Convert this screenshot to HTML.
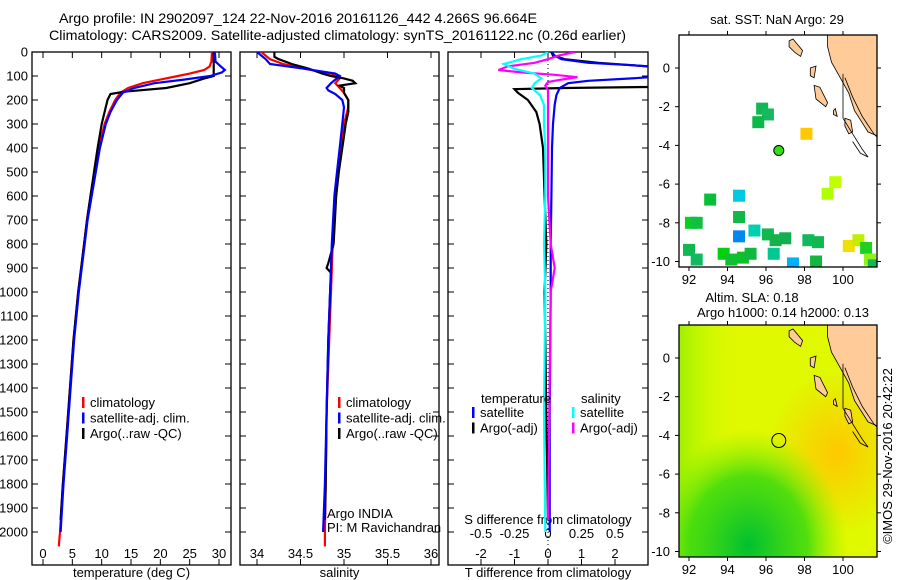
<!DOCTYPE html>
<html><head><meta charset="utf-8"><style>
body{margin:0;background:#fff}
svg{display:block;font-family:"Liberation Sans",sans-serif;font-size:13px}
</style></head><body>
<svg id="c" width="900" height="580" viewBox="0 0 900 580">
<text x="59" y="23" textLength="478" lengthAdjust="spacingAndGlyphs" style="font-size:14px">Argo profile: IN 2902097_124 22-Nov-2016 20161126_442 4.266S 96.664E</text>
<text x="49" y="40" textLength="577" lengthAdjust="spacingAndGlyphs" style="font-size:14px">Climatology: CARS2009. Satellite-adjusted climatology: synTS_20161122.nc (0.26d earlier)</text>
</svg>
<script>
// ---------- data ----------
const depthTicks=[0,100,200,300,400,500,600,700,800,900,1000,1100,1200,1300,1400,1500,1600,1700,1800,1900,2000];
const tempTicks=[0,5,10,15,20,25,30];
const salTicks=[34,34.5,35,35.5,36];
const tdTicks=[-2,-1,0,1,2];
const sdTicks=[-0.5,-0.25,0,0.25,0.5];
const tempClimDepth=[0,40,60,75,90,100,115,130,150,170,200,250,300,400,500,600,700,800,1000,1200,1400,1600,1800,2000,2060];
const tempClim=[28.8,28.7,28.4,27.5,25,23,20,17,14.5,13.2,12.3,11.3,10.5,9.5,8.8,8.1,7.5,7,6,5.2,4.6,4,3.4,2.9,2.7];
const tempSatDepth=[0,40,60,75,85,100,115,130,150,170,200,250,300,400,500,600,700,800,1000,1200,1400,1600,1800,2000];
const tempSat=[29.3,29.4,30.3,31,30.5,28.5,24,19,15.5,13.6,12.6,11.5,10.7,9.7,9,8.3,7.6,7.1,6.1,5.3,4.7,4.1,3.5,3];
const tempArgoDepth=[0,100,110,130,150,165,175,200,250,300,400,500,600,700,800,1000,1200,1400,1600,1800,1950];
const tempArgo=[29.1,29.1,27.5,25,21,14,11.5,11,10.5,10,9.3,8.7,8.1,7.5,7,6,5.2,4.6,4,3.4,3];
const salClimDepth=[0,30,50,70,90,100,110,130,150,170,200,230,300,400,500,600,800,1000,1200,1500,1800,2000,2060];
const salClim=[34.05,34.15,34.3,34.55,34.85,34.95,34.95,34.9,34.95,35.0,35.05,35.05,35.0,34.97,34.93,34.9,34.87,34.85,34.83,34.8,34.79,34.78,34.78];
const salSatDepth=[0,30,50,70,90,100,115,130,150,160,175,200,230,300,400,500,600,800,1000,1200,1500,1800,2000];
const salSat=[34.0,34.1,34.15,34.55,34.9,34.95,34.9,34.85,34.8,34.82,34.9,34.98,35.0,34.98,34.95,34.92,34.89,34.86,34.84,34.82,34.8,34.78,34.76];
const salArgoDepth=[0,20,30,50,70,90,100,110,120,130,140,150,170,200,250,300,400,500,600,800,880,900,920,1000,1200,1500,1800,1950];
const salArgo=[34.2,34.2,34.25,34.4,34.6,34.75,34.85,35.0,35.1,35.13,34.95,35.0,35.0,35.05,35.05,35.02,34.98,34.94,34.91,34.88,34.82,34.8,34.85,34.84,34.82,34.8,34.79,34.78];
const tdSatDepth=[0,15,30,45,55,65,75,90,100,110,120,130,150,180,220,300,400,600,800,1000,1500,2000];
const tdSat=[0.1,0.2,0.4,1.2,2.5,3.5,3.5,3.5,3.5,2.5,1.2,0.6,0.35,0.25,0.2,0.15,0.12,0.1,0.08,0.08,0.05,0.05];
const tdArgoDepth=[0,15,30,45,55,65,75,90,110,130,145,150,155,170,200,250,300,400,600,800,1000,1500,1950];
const tdArgo=[0.1,0.15,0.5,1.5,2.5,3.5,3.5,3.5,3.5,3.5,3.5,0.5,-1.0,-0.9,-0.6,-0.35,-0.25,-0.15,-0.1,-0.05,-0.1,-0.05,0.0];
const sdSatDepth=[0,15,30,50,70,90,110,130,150,180,220,300,400,600,800,1000,1500,2000];
const sdSat=[0.0,-0.05,-0.2,-0.33,-0.25,-0.1,-0.05,-0.1,-0.12,-0.06,-0.03,-0.03,-0.02,-0.02,-0.03,-0.02,-0.03,-0.02];
const sdArgoDepth=[0,15,30,45,60,75,85,95,105,115,125,140,160,200,300,400,600,800,900,1000,1500,1950];
const sdArgo=[0.2,0.08,0.0,-0.1,-0.3,-0.37,-0.2,0.05,0.22,0.1,0.0,-0.02,0.0,0.0,0.0,0.0,0.0,0.02,0.05,0.02,0.01,0.0];
const sstLon=[95.8,96.1,95.6,98.1,94.6,93.1,94.6,92.1,92.4,94.6,95.4,96.1,96.5,97.0,96.4,98.2,98.7,92.0,92.4,93.8,94.2,94.8,95.2,97.4,98.6,99.6,99.2,100.3,100.8,101.2,101.4,101.6];
const sstLat=[-2.1,-2.4,-2.8,-3.4,-6.6,-6.8,-7.7,-8.0,-8.0,-8.7,-8.4,-8.6,-8.9,-8.8,-9.6,-8.9,-9.0,-9.4,-9.9,-9.6,-9.9,-9.8,-9.6,-10.1,-10.0,-5.9,-6.5,-9.2,-8.9,-9.3,-9.9,-10.2];
const sstCol=["#10b850","#18b860","#0cb848","#ffc800","#00c8e0","#08c038","#10b848","#08d020","#10c040","#0088f0","#00d0b0","#10b850","#18b048","#10b050","#00c890","#10b860","#10b850","#10b850","#10b860","#00d010","#10c030","#10c028","#10b840","#00b0f8","#10b840","#c0ff00","#b0ff00","#f0e000","#c0f000","#20d020","#90f020","#10b850"];
// ---------- helpers ----------
const svg=document.getElementById('c');const NS='http://www.w3.org/2000/svg';
function el(t,a,p){const e=document.createElementNS(NS,t);for(const k in a)e.setAttribute(k,a[k]);(p||svg).appendChild(e);return e;}
const yD=d=>52+d*0.24;
function panel(x0,x1,name,xs,ticks,fmt,labelY,xlabel){
  const g=el('g',{});
  const f=el('rect',{x:x0,y:52,width:x1-x0,height:513,fill:'none',stroke:'#000','stroke-width':1.3},g);
  
  if(ticks){ticks.forEach(v=>{const x=xs(v);el('line',{x1:x,x2:x,y1:565,y2:559,stroke:'#000'},g);el('line',{x1:x,x2:x,y1:52,y2:58,stroke:'#000'},g);
   const t=el('text',{x:x,y:labelY,'text-anchor':'middle'},g);t.textContent=fmt(v);});}
  depthTicks.forEach(d=>{el('line',{x1:x0,x2:x0+6,y1:yD(d),y2:yD(d),stroke:'#000'},g);el('line',{x1:x1,x2:x1-6,y1:yD(d),y2:yD(d),stroke:'#000'},g);});
  if(xlabel){const t=el('text',{x:(x0+x1)/2,y:577,'text-anchor':'middle'},g);t.textContent=xlabel;}
  return g;}
function line(g,xs,vals,deps,col,name,x0,x1){
  const cid='cl'+name;const cp=el('clipPath',{id:cid},g);el('rect',{x:x0,y:52,width:x1-x0,height:513},cp);
  const pts=vals.map((v,i)=>xs(v).toFixed(1)+','+yD(deps[i]).toFixed(1)).join(' ');
  const p=el('polyline',{points:pts,fill:'none',stroke:col,'stroke-width':2.2,'clip-path':'url(#'+cid+')'},g);
  }
function txt(x,y,s,name,anchor,g){const t=el('text',{x:x,y:y,'text-anchor':anchor||'start'},g);t.textContent=s;return t;}
function legend(g,x,y,items){items.forEach((it,i)=>{el('rect',{x:x,y:y+i*15.5-11,width:2.5,height:11,fill:it[0]},g);txt(x+8,y+i*15.5-1,it[1],'legend-entry','start',g);});}
depthTicks.forEach(d=>txt(28,yD(d)+4.5,String(d),'y-tick-label','end'));
// panel 1
const xT=v=>43+v*5.867;
const g1=panel(32,231,'temperature-panel',xT,tempTicks,v=>String(v),558,'temperature (deg C)');
line(g1,xT,tempClim,tempClimDepth,'#f00','temp-climatology-line',32,231);
line(g1,xT,tempArgo,tempArgoDepth,'#000','temp-argo-line',32,231);
line(g1,xT,tempSat,tempSatDepth,'#00f','temp-satellite-line',32,231);
legend(g1,82,408,[['#f00','climatology'],['#00f','satellite-adj. clim.'],['#000','Argo(..raw -QC)']]);
// panel 2
const xS=v=>257+(v-34)*87;
const g2=panel(240,439,'salinity-panel',xS,salTicks,v=>String(v),558,'salinity');
line(g2,xS,salClim,salClimDepth,'#f00','sal-climatology-line',240,439);
line(g2,xS,salArgo,salArgoDepth,'#000','sal-argo-line',240,439);
line(g2,xS,salSat,salSatDepth,'#00f','sal-satellite-line',240,439);
legend(g2,338,408,[['#f00','climatology'],['#00f','satellite-adj. clim.'],['#000','Argo(..raw -QC)']]);
txt(327,518,'Argo INDIA','argo-program-label','start',g2);
txt(327,532,'PI: M Ravichandran','pi-label','start',g2);
// panel 3
const xTd=v=>548+v*33.5;const xSd=v=>548+v*134;
const g3=panel(448,648,'difference-panel',xTd,tdTicks,v=>String(v),558,'T difference from climatology');
sdTicks.forEach(v=>txt(xSd(v),538,String(v),'s-tick-label','middle',g3));
txt(548,524,'S difference from climatology','s-axis-title','middle',g3);
el('line',{x1:548,x2:548,y1:52,y2:565,stroke:'#000','stroke-dasharray':'1,3'},g3);
line(g3,xTd,tdArgo,tdArgoDepth,'#000','tdiff-argo-line',448,648);
line(g3,xTd,tdSat,tdSatDepth,'#00f','tdiff-satellite-line',448,648);
line(g3,xSd,sdArgo,sdArgoDepth,'#f0f','sdiff-argo-line',448,648);
line(g3,xSd,sdSat,sdSatDepth,'#0ff','sdiff-satellite-line',448,648);
txt(481,403,'temperature','legend-header-temperature','start',g3);
txt(581,403,'salinity','legend-header-salinity','start',g3);
legend(g3,472,418,[['#00f','satellite'],['#000','Argo(-adj)']]);
legend(g3,572,418,[['#0ff','satellite'],['#f0f','Argo(-adj)']]);
// maps
const lonX=v=>689+(v-92)*19.25;
function mapFrame(y0,y1,lat0,name,fill){
  const g=el('g',{});
  const latY=v=>lat0-v*19.35;
  const cid='clip'+name;const cp=el('clipPath',{id:cid},g);el('rect',{x:679,y:y0,width:198,height:y1-y0},cp);
  const inner=el('g',{'clip-path':'url(#'+cid+')'},g);
  fill(inner,latY);
  const land=(pts)=>el('polygon',{points:pts.map(a=>lonX(a[0]).toFixed(1)+','+latY(a[1]).toFixed(1)).join(' '),fill:'#fc9',stroke:'#000','stroke-width':0.8},inner);
  const ml=land([[99.2,1.8],[102,1.8],[102,-3.6],[101.3,-3.3],[100.6,-2.2],[100.3,-1.3],[99.8,-0.4],[99.4,0.3],[99.2,1.1]]);
  
  land([[97.2,1.4],[97.4,1.5],[97.9,0.9],[97.8,0.6],[97.5,0.8],[97.2,1.1]]);
  land([[98.3,0.0],[98.6,0.1],[98.5,-0.5],[98.3,-0.4]]);
  land([[98.5,-0.9],[98.8,-1.0],[99.2,-1.8],[99.1,-2.0],[98.6,-1.6]]);
  land([[99.5,-2.2],[99.6,-2.1],[99.7,-2.5],[99.5,-2.4]]);
  land([[100.1,-2.6],[100.4,-2.7],[100.5,-3.3],[100.3,-3.4],[100.1,-3.0]]);
  el('polyline',{points:[[100,-0.3],[100,-2.6],[100.5,-3.4],[101,-4.2],[101.3,-4.6],[100.9,-4.4],[100.5,-3.8]].map(a=>lonX(a[0])+','+latY(a[1])).join(' '),fill:'none',stroke:'#000','stroke-width':0.8},inner);
  el('polyline',{points:[[100.1,-0.5],[100.5,-1.5],[101,-2.5],[101.6,-3.4],[102,-3.8]].map(a=>lonX(a[0])+','+latY(a[1])).join(' '),fill:'none',stroke:'#000','stroke-width':0.8},inner);
  const f=el('rect',{x:679,y:y0,width:198,height:y1-y0,fill:'none',stroke:'#000','stroke-width':1.3},g);
  
  [92,94,96,98,100].forEach(v=>{const x=lonX(v);el('line',{x1:x,x2:x,y1:y1,y2:y1+4,stroke:'#000'},g);el('line',{x1:x,x2:x,y1:y0,y2:y0-4,stroke:'#000'},g);txt(x,y1+17,String(v),'lon-tick-label','middle',g);});
  [0,-2,-4,-6,-8,-10].forEach(v=>{const y=latY(v);el('line',{x1:679,x2:675,y1:y,y2:y,stroke:'#000'},g);el('line',{x1:877,x2:881,y1:y,y2:y,stroke:'#000'},g);txt(670,y+4.5,String(v),'lat-tick-label','end',g);});
  return {g,latY};}
const m1=mapFrame(35,267,68,'sst-map',(inner,latY)=>{
  el('rect',{x:679,y:35,width:198,height:232,fill:'#fff'},inner);
  sstLon.forEach((lo,i)=>{const r=el('rect',{x:lonX(lo)-6,y:latY(sstLat[i])-6,width:12,height:12,fill:sstCol[i]},inner);
    });
});
const fp=el('circle',{cx:lonX(96.664),cy:m1.latY(-4.266),r:5,fill:'#30e010',stroke:'#000'},m1.g);

txt(777,24,'sat. SST: NaN Argo: 29','sst-map-title','middle');
const m2=mapFrame(325,557,358,'sla-map',(inner,latY)=>{
  const d=el('defs',{},inner);
  d.innerHTML='<radialGradient id="rg1" cx="0.8" cy="0.55" r="0.35"><stop offset="0" stop-color="#ffc800"/><stop offset="1" stop-color="#ffc800" stop-opacity="0"/></radialGradient><radialGradient id="rg2" cx="0.35" cy="0.95" r="0.5"><stop offset="0" stop-color="#00c030"/><stop offset="0.6" stop-color="#30d810" stop-opacity="0.8"/><stop offset="1" stop-color="#80f000" stop-opacity="0"/></radialGradient><linearGradient id="lg1" x1="0" y1="0" x2="1" y2="0"><stop offset="0" stop-color="#a0f000"/><stop offset="0.3" stop-color="#d8ff00" stop-opacity="0"/></linearGradient>';
  el('rect',{x:679,y:325,width:198,height:232,fill:'#e0f800'},inner);
  el('rect',{x:679,y:325,width:198,height:232,fill:'url(#lg1)'},inner);
  el('rect',{x:679,y:325,width:198,height:232,fill:'url(#rg1)'},inner);
  el('rect',{x:679,y:325,width:198,height:232,fill:'url(#rg2)'},inner);
});
const fp2=el('circle',{cx:lonX(96.664),cy:m2.latY(-4.266),r:7,fill:'none',stroke:'#000'},m2.g);

txt(752,302,'Altim. SLA: 0.18','sla-map-title','middle');
txt(783,317,'Argo h1000: 0.14 h2000: 0.13','sla-map-subtitle','middle');
const cr=txt(892,456,'©IMOS 29-Nov-2016 20:42:22','credit-label','middle');
cr.setAttribute('transform','rotate(-90 892 456)');
</script>
</body></html>
